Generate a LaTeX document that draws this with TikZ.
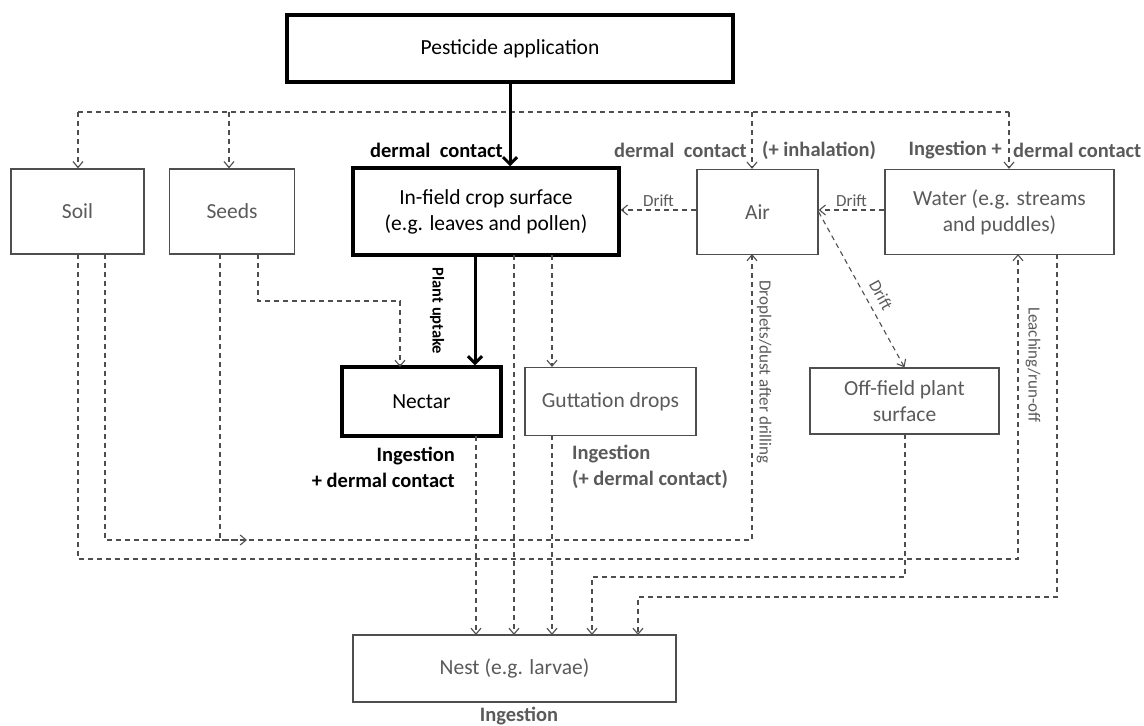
\documentclass[tikz,border=0pt]{standalone}
\usepackage{fontspec}
\setmainfont{Carlito}
\usetikzlibrary{arrows.meta}
\definecolor{ink}{HTML}{5A5A5A}
\definecolor{rule}{HTML}{4E4E4E}
\begin{document}
\begin{tikzpicture}[x=1pt,y=-1pt,
  font=\fontsize{21.5}{26}\selectfont,
  box/.style={draw=rule, line width=1.3pt, text=ink, align=center, inner sep=0pt},
  keybox/.style={draw=black, line width=3.5pt, text=black, align=center, inner sep=0pt},
  bus/.style={draw=rule, line width=1.1pt, dash pattern=on 5pt off 4pt},
  flow/.style={bus, -{Straight Barb[length=6pt,width=10pt]}},
  mainflow/.style={draw=black, line width=3pt, -{Straight Barb[length=7pt,width=14pt]}},
  lab/.style={font=\fontsize{20.5}{26}\selectfont\bfseries, text=ink, inner sep=0pt},
  keylab/.style={lab, text=black},
  small/.style={font=\fontsize{17}{20}\selectfont, text=ink, inner sep=0pt},
]
\useasboundingbox (0,0) rectangle (1144,726);

% ---- compartments ----
\node[keybox, minimum width=446pt, minimum height=67pt] (pest) at (510,48.5) {Pesticide application};
\node[box, minimum width=133pt, minimum height=85pt] (soil) at (77.5,211.5) {Soil};
\node[box, minimum width=125pt, minimum height=85pt] (seeds) at (232,211.5) {Seeds};
\node[keybox, minimum width=266pt, minimum height=87pt] (infield) at (486,211.5) {In-field crop surface\\(e.g. leaves and pollen)};
\node[box, minimum width=121pt, minimum height=85pt] (air) at (757.5,212) {Air};
\node[box, minimum width=229pt, minimum height=85pt] (water) at (999.5,212) {Water (e.g. streams\\and puddles)};
\node[keybox, minimum width=159pt, minimum height=69pt] (nectar) at (421.5,401.5) {Nectar};
\node[box, minimum width=171pt, minimum height=68pt] (gutt) at (610.5,401.5) {Guttation drops};
\node[box, minimum width=189pt, minimum height=66pt] (off) at (904.5,401) {Off-field plant\\surface};
\node[box, minimum width=323pt, minimum height=67pt] (nest) at (514.5,668.5) {Nest (e.g. larvae)};

% ---- exposure labels ----
\node[keylab, anchor=east] (dc1) at (503,150) {dermal\ \ contact};
\node[lab, anchor=east] (dc2) at (747,150) {dermal\ \ contact};
\node[lab, anchor=west] (inh) at (762,150) {(+ inhalation)};
\node[lab, anchor=east] (ing1) at (1002,150) {Ingestion +};
\node[lab, anchor=west] (dc3) at (1013,150) {dermal contact};
\node[keylab, anchor=east, align=right] (ingn) at (455,467) {Ingestion\\+ dermal contact};
\node[lab, anchor=west, align=left] (ingg) at (572,467) {Ingestion\\(+ dermal contact)};
\node[lab] (ingnest) at (519,716) {Ingestion};

% ---- application bus ----
\coordinate (busL) at (78,112);
\coordinate (busS) at (229,112);
\coordinate (busA) at (752,112);
\coordinate (busR) at (1009,112);
\draw[bus] (busL) -- (busR);
\draw[flow] (busL) -- (busL |- soil.north);
\draw[flow] (busS) -- (busS |- seeds.north);
\draw[flow] (busA) -- (busA |- air.north);
\draw[flow] (busR) -- (busR |- water.north);

% ---- main route ----
\draw[mainflow] (pest.south) -- (pest.south |- infield.north);
\draw[mainflow] ([xshift=-11pt]infield.south) -- ([xshift=-11pt]infield.south |- nectar.north);
\node[font=\fontsize{16.5}{20}\selectfont\bfseries, text=black, rotate=-90, inner sep=0pt] (uptake) at (437,311) {Plant uptake};

% ---- drift ----
\draw[flow] (air.west |- 0,210) -- (infield.east |- 0,210)
  node[midway, above=3pt, small] (d1) {Drift};
\draw[flow] (water.west |- 0,210) -- (air.east |- 0,210)
  node[midway, above=3pt, small] (d2) {Drift};
\draw[flow] (air.east) -- (off.north)
  node[pos=0.58, above=8pt, sloped, small] (d3) {Drift};

% ---- routes to nectar, guttation and nest ----
\draw[flow] (258,254) |- (400,301) -- (400,367);
\draw[flow] (552,255) -- (552,367);
\draw[flow] (514,255) -- (514,635);
\draw[flow] (476,436) -- (476,635);
\draw[flow] (552,435) -- (552,635);
\draw[flow] (905,434) |- (592,577) -- (592,635);
\draw[flow] (1057,254) |- (638,597) -- (638,635);

% ---- soil and seeds back to air and water ----
\coordinate (j1) at (247,540);
\draw[flow] (105,254) |- (j1);
\draw[flow] (220,254) |- (752,540) -- (752,254);
\node[small, rotate=-90] (droplets) at (764,372) {Droplets/dust after drilling};
\draw[flow] (78,254) |- (1018,559) -- (1018,254);
\node[small, rotate=-90] (leach) at (1033,365) {Leaching/run-off};
\end{tikzpicture}
\end{document}
